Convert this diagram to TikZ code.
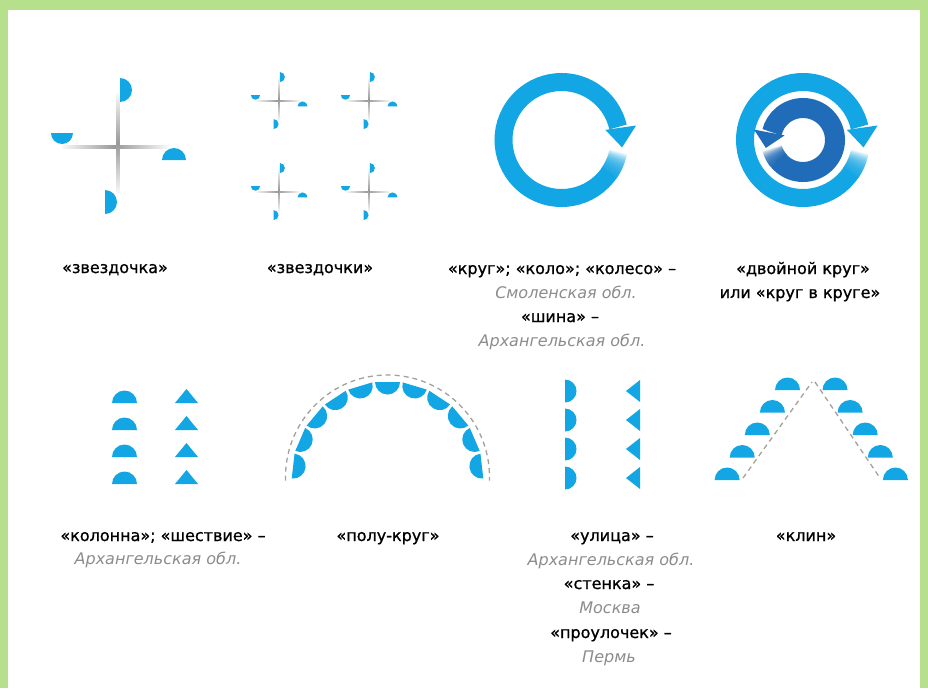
\documentclass[tikz,border=0pt]{standalone}
\usepackage{fontspec}
\setmainfont{DejaVu Sans}
\newfontfamily\heavyfont[FakeBold=0.9]{DejaVu Sans}
\definecolor{blu}{RGB}{18,166,229}
\definecolor{dblu}{RGB}{32,108,184}
\definecolor{grn}{RGB}{183,224,140}
\definecolor{regc}{RGB}{140,140,140}
\definecolor{dashc}{RGB}{165,160,155}
\newcommand\hdisc[3]{\fill[blu] #1 ++({#3+90}:#2) arc[start angle={#3+90}, delta angle=-180, radius=#2] -- cycle;}
\newcommand\starfig[1]{%
  \shade[left color=gray!5,right color=gray!5,middle color=gray!80] (-56,-#1) rectangle (50,#1);
  \shade[top color=gray!5,bottom color=gray!5,middle color=gray!80] (-#1,-46) rectangle (#1,54);
  \hdisc{(2,57)}{12}{0}
  \hdisc{(-56,14)}{11}{270}
  \hdisc{(56,-13)}{12}{90}
  \hdisc{(-13,-55)}{12}{0}}
\newcommand\outerring{%
  \draw[blu, line width=18pt] (-34:58) arc[start angle=-34, end angle=-347, radius=58];
  \foreach \i in {0,...,21}{%
    \draw[blu, line width=18pt, opacity=0.11] ({-12-\i}:58) arc[start angle={-12-\i}, end angle=-35, radius=58];}
  \fill[blu] (13:45) -- (11:76) -- (-7:61) -- cycle;}
\tikzset{
  lab/.style={font=\heavyfont\fontsize{16}{19}\selectfont, anchor=base, inner sep=0pt, text=black},
  place/.style={lab, font=\fontsize{16}{19}\selectfont\itshape, text=regc},
  guide/.style={dashc, line width=1.3pt, dash pattern=on 5pt off 4pt}
}
\begin{document}
\begin{tikzpicture}[x=1pt, y=1pt]
\useasboundingbox (0,0) rectangle (928,-688);
\fill[white] (0,0) rectangle (928,-688);
\fill[grn] (0,0) rectangle (928,-10);
\fill[grn] (0,0) rectangle (8,-688);
\fill[grn] (920,0) rectangle (928,-688);

% big star
\begin{scope}[shift={(118,-147)}]\starfig{1.3}\end{scope}
% small stars
\begin{scope}[shift={(279,-101)}, scale=0.42]\starfig{2.2}\end{scope}
\begin{scope}[shift={(369,-101)}, scale=0.42]\starfig{2.2}\end{scope}
\begin{scope}[shift={(279,-192)}, scale=0.42]\starfig{2.2}\end{scope}
\begin{scope}[shift={(369,-192)}, scale=0.42]\starfig{2.2}\end{scope}

% circle
\begin{scope}[shift={(561.5,-140)}]\outerring\end{scope}

% double circle
\begin{scope}[shift={(803,-140)}]\outerring
  \draw[dblu, line width=20pt] (219:32) arc[start angle=219, end angle=526, radius=32];
  \foreach \i in {0,...,23}{%
    \draw[dblu, line width=20pt, opacity=0.11] ({195+\i}:32) arc[start angle={195+\i}, end angle=220, radius=32];}
  \fill[dblu] (166:19) -- (168:50) -- (192:38) -- cycle;
\end{scope}

% column
\foreach \y in {403,430,457,484}{%
  \hdisc{(124.5,-\y)}{12.5}{90}
  \fill[blu] (175,-\y) -- (198,-\y) -- (186.5,-\y+14) -- cycle;}

% semicircle
\begin{scope}[shift={(387.5,-477)}]
  \draw[guide] (182:102) arc[start angle=182, end angle=-2, radius=102];
  \foreach \k in {0,...,10}{%
    \pgfmathsetmacro\th{173.4-16.68*\k}%
    \hdisc{(\th:95)}{12.5}{\th+180}}
\end{scope}

% street
\foreach \y in {391,420,449,478}{%
  \hdisc{(565,-\y)}{11.5}{0}
  \fill[blu] (640,-\y+11) -- (640,-\y-11) -- (626,-\y) -- cycle;}

% wedge
\coordinate (wl1) at (743,-478);
\coordinate (wl2) at (812,-382);
\coordinate (wr1) at (815,-382);
\coordinate (wr2) at (880,-478);
\draw[guide] (wl1) -- (wl2);
\draw[guide] (wr1) -- (wr2);
\foreach \k in {0,...,4}{%
  \pgfmathsetmacro\yy{-390-22.5*\k}%
  \pgfmathsetmacro\xl{787.5-15.1*\k}%
  \pgfmathsetmacro\xr{835+15.1*\k}%
  \hdisc{(\xl,\yy)}{12.5}{90}
  \hdisc{(\xr,\yy)}{12.5}{90}}

% labels
\node[lab] (n1) at (115,-273) {«звездочка»};
\node[lab] (n2) at (320,-273) {«звездочки»};
\node[lab] (n3) at (562,-274) {«круг»; «коло»; «колесо» –};
\node[place] (n4) at (566,-298) {Смоленская обл.};
\node[lab] (n5) at (560,-322) {«шина» –};
\node[place] (n6) at (562,-346) {Архангельская обл.};
\node[lab] (n7) at (803,-274) {«двойной круг»};
\node[lab] (n8) at (800,-298) {или «круг в круге»};
\node[lab] (n9) at (163,-541) {«колонна»; «шествие» –};
\node[place] (n10) at (158,-564) {Архангельская обл.};
\node[lab] (n11) at (388,-541) {«полу-круг»};
\node[lab] (n12) at (612,-541) {«улица» –};
\node[place] (n13) at (611,-565) {Архангельская обл.};
\node[lab] (n14) at (609,-589) {«стенка» –};
\node[place] (n15) at (610,-613) {Москва};
\node[lab] (n16) at (611,-638) {«проулочек» –};
\node[place] (n17) at (609,-662) {Пермь};
\node[lab] (n18) at (806,-541) {«клин»};
\end{tikzpicture}
\end{document}
